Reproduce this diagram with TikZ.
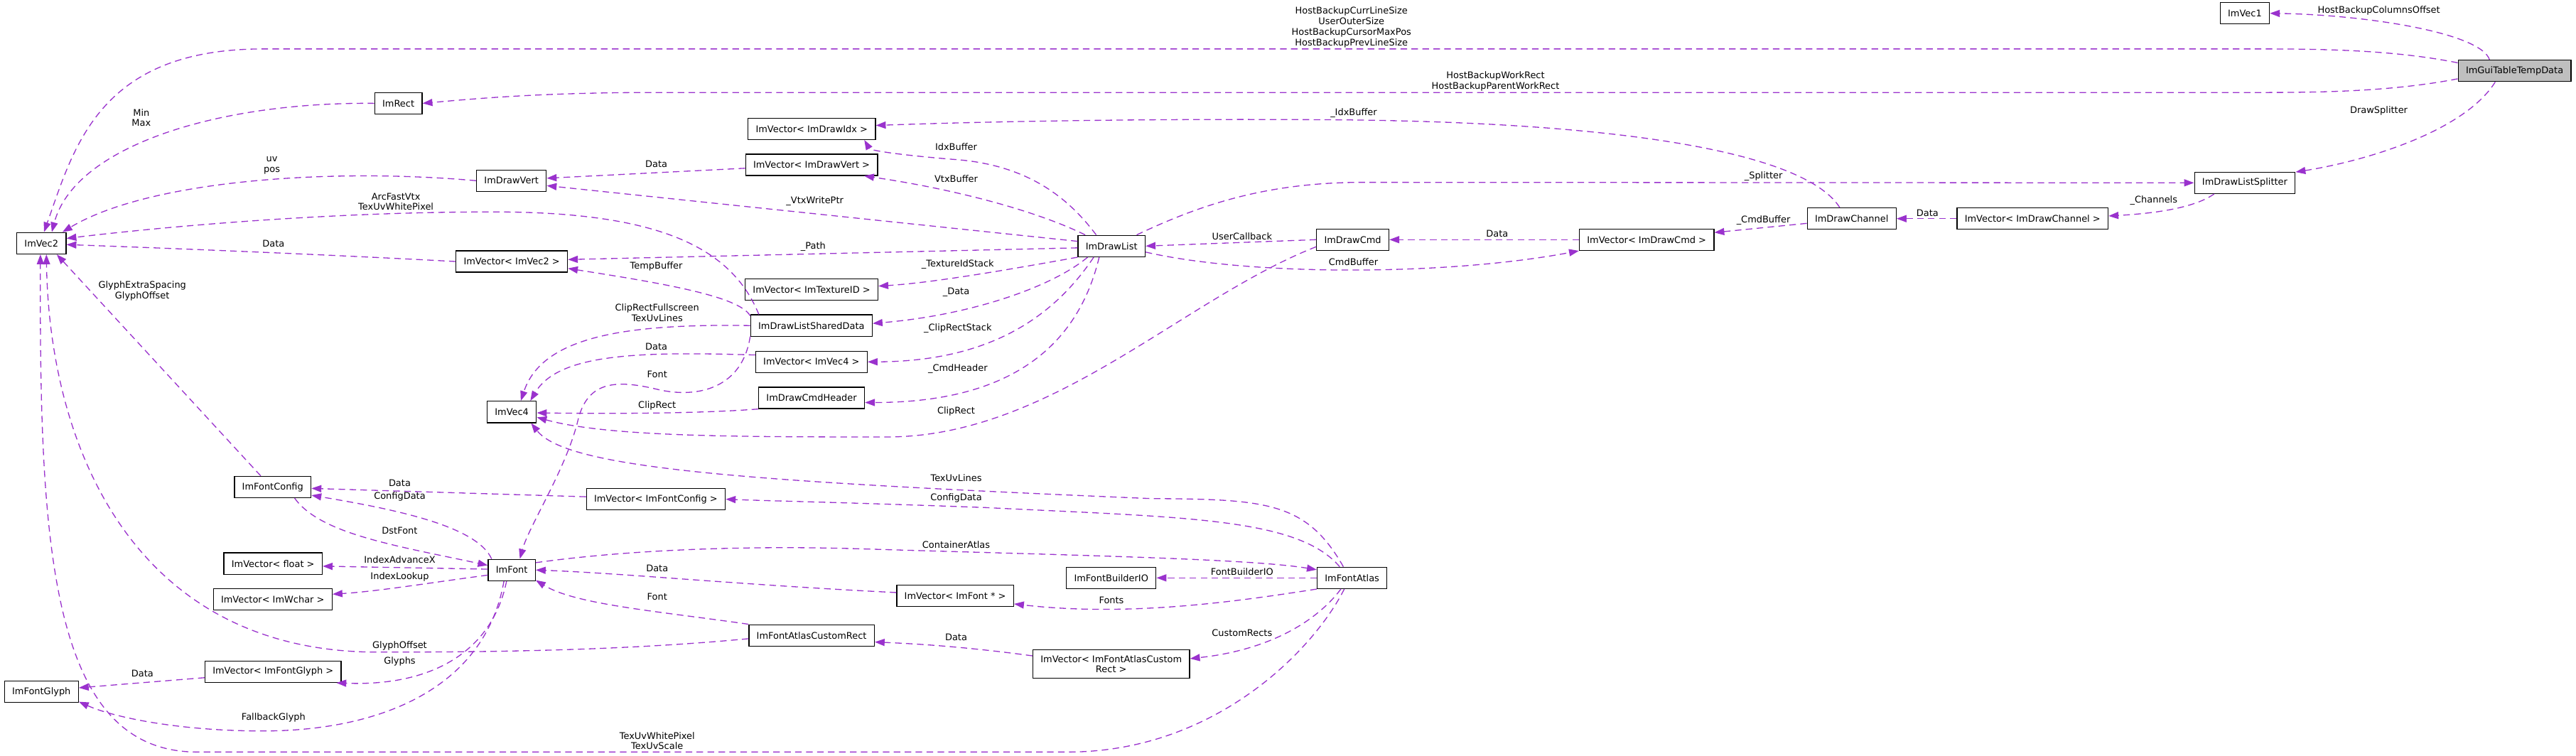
\documentclass[tikz,border=0pt]{standalone}
\usepackage{fontspec}
\setmainfont{DejaVu Sans}
\usetikzlibrary{arrows.meta}
\definecolor{usage}{HTML}{9A32CD}
\definecolor{focus}{HTML}{BFBFBF}

\begin{document}
\begin{tikzpicture}[x=1.5pt,y=-1.5pt,font=\fontsize{8.4}{9.6}\selectfont,
  classbox/.style={draw=black,line width=0.9pt,fill=white,minimum height=19.5pt,inner xsep=7pt,inner ysep=2pt},
  rel/.style={draw=usage,line width=0.85pt,dash pattern=on 6pt off 4pt,-{Triangle[length=9pt,width=6.5pt]}},
  lbl/.style={align=center,inner sep=0pt}]
  \useasboundingbox (0,0) rectangle (1568,460);
  \foreach \nm/\x/\y/\txt in {vecone/1366.4/8.1/ImVec1, imrect/242.5/62.9/ImRect,
      vidx/494.1/78.4/ImVector< ImDrawIdx >, vvert/494/100.3/ImVector< ImDrawVert >,
      drawvert/311.3/110/ImDrawVert, splitter/1366.4/111.3/ImDrawListSplitter,
      vectwo/25.2/148.1/ImVec2, vvectwo/311.5/159.2/ImVector< ImVec2 >,
      drawlist/676.6/149.8/ImDrawList, drawcmd/823.4/145.9/ImDrawCmd,
      vdrawcmd/1002.3/145.9/ImVector< ImDrawCmd >, channel/1127.1/133.1/ImDrawChannel,
      vchannel/1237.2/133.1/ImVector< ImDrawChannel >, vtexid/494/176.3/ImVector< ImTextureID >,
      shared/493.9/198.2/ImDrawListSharedData, vvecfour/493.9/220.3/ImVector< ImVec4 >,
      vecfour/311.5/250.8/ImVec4, cmdheader/494/242.2/ImDrawCmdHeader,
      fontcfg/166/296.5/ImFontConfig, vfontcfg/399.2/303.9/ImVector< ImFontConfig >,
      vfloat/166.2/343.1/ImVector< float >, vwchar/166/364.9/ImVector< ImWchar >,
      imfont/311.5/347/ImFont, builder/676.4/351.8/ImFontBuilderIO,
      atlas/823/351.8/ImFontAtlas, vfontptr/581.4/362.6/ImVector< ImFont * >,
      customrect/494/386.8/ImFontAtlasCustomRect, vglyph/166.2/408.9/ImVector< ImFontGlyph >,
      glyph/25.2/421.1/ImFontGlyph}
    \node[classbox] (\nm) at (\x,\y) {\txt};
  \node[classbox,fill=focus] (tabletemp) at (1530.6,43.1) {ImGuiTableTempData};
  \node[classbox,align=center,minimum height=26pt] (vcustom) at (676.4,404.3) {ImVector< ImFontAtlasCustom\\Rect >};

  \draw[rel] (tabletemp.156) .. controls (1510,20) and (1440,9) .. (vecone.east);
  \draw[rel] (tabletemp.172) .. controls (1460,31) and (1420,29.8) .. (1380,29.8) -- (160,29.8) .. controls (60,29.8) and (45,90) .. (vectwo.77);
  \draw[rel] (tabletemp.188) .. controls (1460,55) and (1420,56.3) .. (1380,56.3) -- (400,56.3) .. controls (330,56.3) and (290,60) .. (imrect.east);
  \draw[rel] (tabletemp.210) .. controls (1500,80) and (1440,98) .. (splitter.12);
  \draw[rel] (imrect.west) .. controls (130,62) and (45,90) .. (vectwo.47);
  \draw[rel] (drawvert.west) .. controls (200,102) and (90,110) .. (vectwo.28);
  \draw[rel] (shared.168) .. controls (445,150) and (400,129) .. (300,129) .. controls (200,129) and (100,138) .. (vectwo.11);
  \draw[rel] (vvectwo.west) .. controls (200,155) and (100,151) .. (vectwo.-3);
  \draw[rel] (fontcfg.137) -- (vectwo.-36);
  \draw[rel] (customrect.183) .. controls (380,396) and (300,397) .. (230,397) .. controls (80,397) and (30,270) .. (vectwo.-66);
  \draw[rel] (atlas.235) .. controls (800,395) and (740,457.8) .. (650,457.8) -- (120,457.8) .. controls (30,457.8) and (24,330) .. (vectwo.-95);
  \draw[rel] (vvert.183) -- (drawvert.4);
  \draw[rel] (drawlist.172) -- (drawvert.-8);
  \draw[rel] (drawlist.183) -- (vvectwo.2);
  \draw[rel] (shared.171) .. controls (450,180) and (400,172) .. (vvectwo.-7);
  \draw[rel] (shared.west) .. controls (380,197) and (330,205) .. (vecfour.51);
  \draw[rel] (vvecfour.173) .. controls (390,214) and (340,215) .. (vecfour.31);
  \draw[rel] (shared.190) .. controls (452,236) and (425,243) .. (400,237) .. controls (375,231) and (358,232) .. (352,255) .. controls (345,285) and (322,320) .. (imfont.54);
  \draw[rel] (drawcmd.west) -- (drawlist.east);
  \draw[rel] (vdrawcmd.west) -- (drawcmd.east);
  \draw[rel] (drawlist.-10) .. controls (760,168) and (880,168) .. (vdrawcmd.south west);
  \draw[rel] (channel.186) -- (vdrawcmd.6);
  \draw[rel] (vchannel.west) -- (channel.east);
  \draw[rel] (splitter.200) .. controls (1335,127) and (1310,130) .. (vchannel.2);
  \draw[rel] (drawlist.24) .. controls (730,125) and (770,111) .. (830,111) -- (splitter.west);
  \draw[rel] (channel.137) .. controls (1100,95) and (1000,75) .. (820,73) .. controls (700,72) and (600,74) .. (vidx.3);
  \draw[rel] (drawlist.144) .. controls (650,120) and (625,100) .. (580,97) .. controls (555,95) and (530,92) .. (vidx.-12);
  \draw[rel] (drawlist.157) .. controls (630,128) and (580,115) .. (vvert.-12);
  \draw[rel] (drawlist.south west) .. controls (620,163) and (570,172) .. (vtexid.3);
  \draw[rel] (drawlist.205) .. controls (640,175) and (590,192) .. (shared.2);
  \draw[rel] (drawlist.212) .. controls (640,195) and (600,220) .. (vvecfour.east);
  \draw[rel] (drawlist.222) .. controls (655,215) and (610,245) .. (cmdheader.-5);
  \draw[rel] (drawcmd.191) .. controls (720,182) and (640,266) .. (540,266) .. controls (450,266) and (370,266) .. (vecfour.-12);
  \draw[rel] (cmdheader.south west) .. controls (430,251.5) and (380,252) .. (vecfour.-2);
  \draw[rel] (atlas.128) .. controls (795,305) and (770,304) .. (700,303.5) .. controls (450,293) and (345,285) .. (vecfour.-30);
  \draw[rel] (atlas.138) .. controls (790,315) and (720,315) .. (600,309) .. controls (520,306) and (470,305) .. (vfontcfg.east);
  \draw[rel] (vfontcfg.178) -- (fontcfg.-2);
  \draw[rel] (imfont.151) .. controls (290,320) and (240,310) .. (fontcfg.-12);
  \draw[rel] (fontcfg.-27) .. controls (195,325) and (240,332) .. (imfont.169);
  \draw[rel] (imfont.178) -- (vfloat.-3);
  \draw[rel] (imfont.192) .. controls (260,355) and (230,360) .. (vwchar.5);
  \draw[rel] (imfont.245) .. controls (300,395) and (265,418) .. (vglyph.-10);
  \draw[rel] (imfont.235) .. controls (295,420) and (230,445) .. (160,445) .. controls (110,445) and (70,437) .. (glyph.-15);
  \draw[rel] (vglyph.185) -- (glyph.6);
  \draw[rel] (imfont.17) .. controls (380,335) and (450,332) .. (520,334) .. controls (650,338) and (760,340) .. (atlas.167);
  \draw[rel] (atlas.west) -- (builder.east);
  \draw[rel] (atlas.south west) .. controls (760,365) and (690,376) .. (vfontptr.-8);
  \draw[rel] (vfontptr.177) .. controls (450,356) and (380,349) .. (imfont.east);
  \draw[rel] (customrect.north west) .. controls (400,372) and (350,368) .. (imfont.-23);
  \draw[rel] (vcustom.174) .. controls (590,394) and (560,392) .. (customrect.-6);
  \draw[rel] (atlas.225) .. controls (800,380) and (770,396) .. (vcustom.4);

  \foreach \x/\y/\txt [count=\i] in {1448/6.3/HostBackupColumnsOffset,
      822.6/16.65/HostBackupCurrLineSize\\UserOuterSize\\HostBackupCursorMaxPos\\HostBackupPrevLineSize,
      910.3/49.65/HostBackupWorkRect\\HostBackupParentWorkRect, 1448/67.3/DrawSplitter,
      86/71.65/Min\\Max, 165.5/100.65/uv\\pos, 241/122.75/ArcFastVtx\\TexUvWhitePixel,
      166.5/148.5/Data, 86.6/177.25/GlyphExtraSpacing\\GlyphOffset, 399.5/100/Data,
      399.5/162.3/TempBuffer, 400/190.25/ClipRectFullscreen\\TexUvLines, 399.5/211/Data,
      400/228/Font, 400/247/ClipRect, 824/69/\_IdxBuffer, 582/89.4/IdxBuffer,
      582/108.7/VtxBuffer, 496/122.6/\_VtxWritePtr, 495/150/\_Path,
      583/161/\_TextureIdStack, 582/178/\_Data, 583/200/\_ClipRectStack,
      583/224.6/\_CmdHeader, 582/250.4/ClipRect, 756/143.7/UserCallback,
      911.3/142.2/Data, 823.8/159.4/CmdBuffer, 1073.4/107.2/\_Splitter,
      1073.4/134.3/\_CmdBuffer, 1173.2/129.6/Data, 1311/122.1/\_Channels,
      243.3/294.1/Data, 243.3/302.5/ConfigData, 243.3/323/DstFont,
      243.3/340.9/IndexAdvanceX, 243.3/351/IndexLookup, 243.3/393/GlyphOffset,
      243.3/402.5/Glyphs, 166.5/437/FallbackGlyph, 86.7/409.8/Data,
      400/451/TexUvWhitePixel\\TexUvScale, 582/291/TexUvLines, 582/303/ConfigData,
      582/331.6/ContainerAtlas, 756/348/FontBuilderIO, 676.5/365.4/Fonts,
      400/345.9/Data, 400/363.4/Font, 582/387.9/Data, 756/385.2/CustomRects}
    \node[lbl] (lab\i) at (\x,\y) {\txt};
\end{tikzpicture}
\end{document}
